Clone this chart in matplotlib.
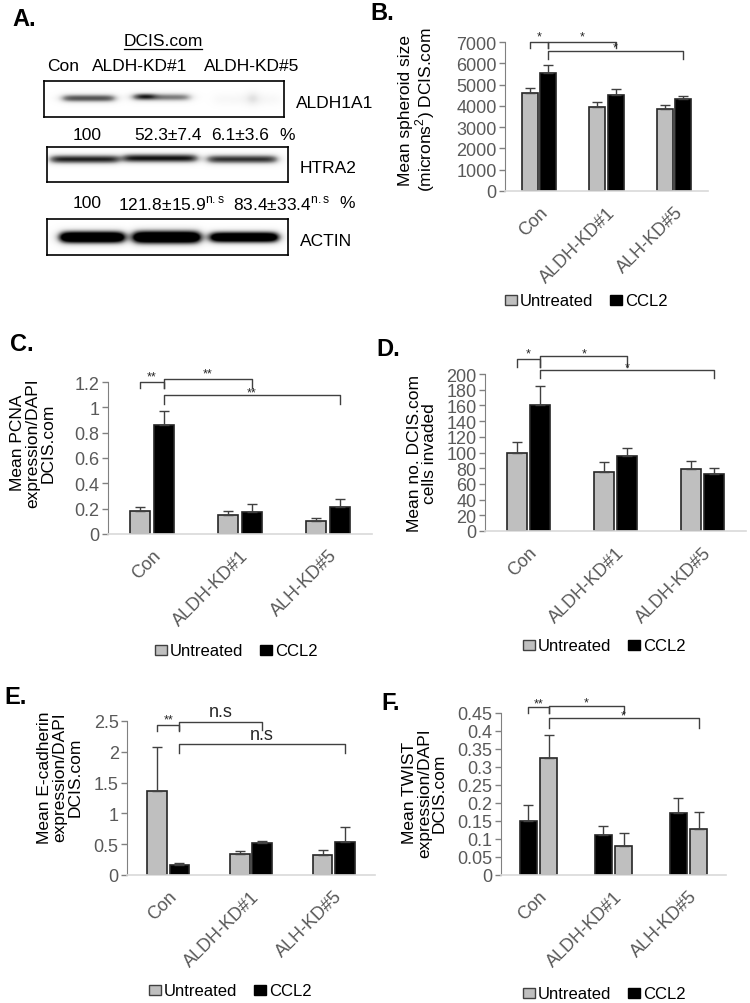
import matplotlib
matplotlib.use("Agg")
import matplotlib.pyplot as plt
import numpy as np
from matplotlib.patches import Patch

plt.rcParams['font.family'] = ['Liberation Sans', 'DejaVu Sans']
plt.rcParams['mathtext.fontset'] = 'custom'
plt.rcParams['mathtext.rm'] = 'Liberation Sans'

W, H = 750, 1004

# ---- data ----
groups_a = ['Con', 'ALDH-KD#1', 'ALH-KD#5']
groups_d = ['Con', 'ALDH-KD#1', 'ALDH-KD#5']

spheroid_untr = [4600, 3950, 3850]
spheroid_untr_err = [250, 250, 200]
spheroid_ccl2 = [5550, 4520, 4320]
spheroid_ccl2_err = [350, 250, 150]

pcna_untr = [0.18, 0.15, 0.105]
pcna_untr_err = [0.03, 0.035, 0.025]
pcna_ccl2 = [0.86, 0.175, 0.215]
pcna_ccl2_err = [0.11, 0.06, 0.065]

inv_untr = [100, 75, 79]
inv_untr_err = [14, 13, 10]
inv_ccl2 = [161, 96, 73]
inv_ccl2_err = [24, 10, 7]

ecad_untr = [1.36, 0.34, 0.32]
ecad_untr_err = [0.71, 0.05, 0.09]
ecad_ccl2 = [0.16, 0.52, 0.54]
ecad_ccl2_err = [0.035, 0.03, 0.24]

# panel F: first bar black, second bar grey (as in the figure)
twist_first = [0.15, 0.11, 0.172]
twist_first_err = [0.045, 0.025, 0.042]
twist_second = [0.325, 0.08, 0.128]
twist_second_err = [0.063, 0.037, 0.047]

# western blot quantification
blot_lanes = ['Con', 'ALDH-KD#1', 'ALDH-KD#5']
aldh_quant = ['100', '52.3±7.4', '6.1±3.6']
htra_quant = ['100', '121.8±15.9$^{\\mathrm{n.s}}$', '83.4±33.4$^{\\mathrm{n.s}}$']

GREY = '#bfbfbf'
TICK = '#595959'

fig = plt.figure(figsize=(7.5, 10.04), dpi=100)


def fx(x):
    return x / W


def fy(y):
    return 1 - y / H


def add_ax(l, t, r, b):
    return fig.add_axes([fx(l), fy(b), fx(r) - fx(l), fy(t) - fy(b)])


def bracket(ax, x1, x2, y, h, label, size=10, dy=0):
    ax.plot([x1, x1, x2, x2], [y - h, y, y, y - h], color='#404040', lw=1,
            clip_on=False)
    ax.text((x1 + x2) / 2, y + dy, label, ha='center', va='bottom',
            fontsize=size, color='#262626', clip_on=False)


def bar_panel(ax, names, v1, e1, c1, v2, e2, c2, ymax, step, ytl, fs=13):
    x = np.arange(len(names))
    off, w = 0.135, 0.235
    for xs, v, e, c in [(x - off, v1, e1, c1), (x + off, v2, e2, c2)]:
        ax.bar(xs, v, w, color=c, edgecolor='#262626', lw=1.2, zorder=2)
        ax.errorbar(xs, v, yerr=[np.zeros(len(v)), e], fmt='none',
                    ecolor='#404040', elinewidth=1, capsize=3.5, zorder=3)
    ax.set_xlim(-0.5, len(names) - 0.5)
    ax.set_ylim(0, ymax)
    ax.set_yticks(np.arange(0, ymax + step / 2, step))
    ax.set_yticklabels(ytl)
    ax.set_xticks(x)
    ax.set_xticklabels(names, rotation=45, ha='right', rotation_mode='anchor')
    ax.tick_params(axis='x', length=0, pad=9, labelsize=fs, colors=TICK)
    ax.tick_params(axis='y', length=4, width=1, color='#808080', pad=2,
                   labelsize=fs, colors=TICK)
    for s in ['top', 'right']:
        ax.spines[s].set_visible(False)
    ax.spines['left'].set_color('#808080')
    ax.spines['bottom'].set_color('#d9d9d9')
    ax.spines['bottom'].set_linewidth(1.2)


def legend(cx, cy):
    handles = [Patch(facecolor=GREY, edgecolor='#404040', label='Untreated'),
               Patch(facecolor='black', edgecolor='black', label='CCL2')]
    fig.legend(handles=handles, loc='center', bbox_to_anchor=(fx(cx), fy(cy)),
               ncol=2, frameon=False, fontsize=12, handlelength=0.75,
               handleheight=0.55, handletextpad=0.15, columnspacing=1.0)


def panel_letter(x, y, s):
    fig.text(fx(x), fy(y), s, fontsize=17, fontweight='bold', va='center',
             ha='left')


# ---- panel A: western blot ----
panel_letter(12, 20, 'A.')
fig.text(fx(163), fy(42), 'DCIS.com', ha='center', va='center', fontsize=12.5)
fig.add_artist(plt.Line2D([fx(124), fx(202)], [fy(50), fy(50)], color='k', lw=0.9))
for lx, lab in zip([63, 140, 252], blot_lanes):
    fig.text(fx(lx), fy(67), lab, ha='center', va='center', fontsize=12.5)


def blot(l, t, r, b, bands, name):
    ax = add_ax(l, t, r, b)
    wpx, hpx = r - l, b - t
    xx, yy = np.meshgrid(np.arange(wpx * 2) / 2, np.arange(hpx * 2) / 2)
    img = np.zeros_like(xx)
    for x0, x1, yc, sy, amp in bands:
        edge = 1 / (1 + np.exp(-(xx - x0) / 3)) * 1 / (1 + np.exp((xx - x1) / 3))
        img += amp * edge * np.exp(-((yy - yc) / sy) ** 2)
    ax.imshow(np.clip(img, 0, 1), cmap='Greys', vmin=0, vmax=1, aspect='auto',
              extent=[0, wpx, hpx, 0], interpolation='bilinear')
    ax.set_xticks([])
    ax.set_yticks([])
    for s in ax.spines.values():
        s.set_linewidth(1.2)
    fig.text(fx(r + 12), fy((t + b) / 2 + 3), name, ha='left', va='center',
             fontsize=12.5)


blot(44, 82, 284, 118, [(18, 71, 17, 4, 0.75), (88, 146, 16, 4, 0.6),
                        (92, 110, 15, 3, 0.4), (170, 236, 18, 6, 0.06),
                        (205, 212, 17, 7, 0.25)], 'ALDH1A1')
fig.text(fx(87), fy(136), aldh_quant[0], ha='center', va='center', fontsize=12.5)
fig.text(fx(168), fy(136), aldh_quant[1], ha='center', va='center', fontsize=12.5)
fig.text(fx(240), fy(136), aldh_quant[2], ha='center', va='center', fontsize=12.5)
fig.text(fx(287), fy(136), '%', ha='center', va='center', fontsize=12.5)

blot(47, 148, 288, 183, [(3, 72, 12, 4.5, 0.9), (76, 150, 11, 4.5, 0.95),
                         (160, 230, 12, 4.5, 0.85)], 'HTRA2')
fig.text(fx(87), fy(204), htra_quant[0], ha='center', va='center', fontsize=12.5)
fig.text(fx(172), fy(204), htra_quant[1], ha='center', va='center', fontsize=12.5)
fig.text(fx(282), fy(204), htra_quant[2], ha='center', va='center', fontsize=12.5)
fig.text(fx(347), fy(204), '%', ha='center', va='center', fontsize=12.5)

blot(47, 220, 288, 256, [(13, 77, 18, 6, 1.6), (86, 153, 18, 6.5, 1.6),
                         (163, 231, 18, 5.5, 1.5)], 'ACTIN')

# ---- panel B ----
panel_letter(370, 13, 'B.')
axB = add_ax(505, 43, 708, 192)
bar_panel(axB, groups_a, spheroid_untr, spheroid_untr_err, GREY,
          spheroid_ccl2, spheroid_ccl2_err, 'black', 7000, 1000,
          [str(v) for v in range(0, 7001, 1000)])
axB.set_ylabel('Mean spheroid size\n(microns$^{2}$) DCIS.com', fontsize=12.5,
               linespacing=1.0)
axB.yaxis.set_label_coords(-0.335, 0.55)
bracket(axB, -0.135, 0.135, 7000, 300, '*', 9)
bracket(axB, 0.135, 1.135, 7000, 300, '*', 9)
bracket(axB, 0.135, 2.135, 6600, 400, '*', 9, dy=-150)
legend(586, 302)

# ---- panel C ----
panel_letter(10, 345, 'C.')
axC = add_ax(108, 383, 372, 535)
bar_panel(axC, groups_a, pcna_untr, pcna_untr_err, GREY, pcna_ccl2,
          pcna_ccl2_err, 'black', 1.2, 0.2,
          ['0', '0.2', '0.4', '0.6', '0.8', '1', '1.2'])
axC.set_ylabel('Mean PCNA\nexpression/DAPI\nDCIS.com', fontsize=12.5,
               linespacing=1.0)
axC.yaxis.set_label_coords(-0.2, 0.605)
bracket(axC, -0.135, 0.135, 1.2, 0.05, '**', 9)
bracket(axC, 0.135, 1.135, 1.22, 0.07, '**', 9)
bracket(axC, 0.135, 2.135, 1.1, 0.07, '**', 9, dy=-0.03)
legend(236, 652)

# ---- panel D ----
panel_letter(376, 350, 'D.')
axD = add_ax(485, 375, 746, 532)
bar_panel(axD, groups_d, inv_untr, inv_untr_err, GREY, inv_ccl2, inv_ccl2_err,
          'black', 200, 20, [str(v) for v in range(0, 201, 20)])
axD.set_ylabel('Mean no. DCIS.com\ncells invaded', fontsize=12.5,
               linespacing=1.0)
axD.yaxis.set_label_coords(-0.184, 0.5)
bracket(axD, -0.135, 0.135, 219, 10, '*', 9)
bracket(axD, 0.135, 1.135, 223, 14, '*', 9, dy=-5)
bracket(axD, 0.135, 2.135, 205, 10, '*', 9, dy=-4)
legend(604, 647)

# ---- panel E ----
panel_letter(4, 697, 'E.')
axE = add_ax(127, 722, 375, 876)
bar_panel(axE, groups_a, ecad_untr, ecad_untr_err, GREY, ecad_ccl2,
          ecad_ccl2_err, 'black', 2.5, 0.5,
          ['0', '0.5', '1', '1.5', '2', '2.5'])
axE.set_ylabel('Mean E-cadherin\nexpression/DAPI\nDCIS.com', fontsize=12.5,
               linespacing=1.0)
axE.yaxis.set_label_coords(-0.18, 0.64)
bracket(axE, -0.135, 0.135, 2.43, 0.1, '**', 9)
bracket(axE, 0.135, 1.135, 2.48, 0.12, 'n.s', 13, dy=0.03)
bracket(axE, 0.135, 2.135, 2.12, 0.14, 'n.s', 13, dy=0.02)
legend(230, 992)

# ---- panel F ----
panel_letter(381, 703, 'F.')
axF = add_ax(501, 714, 726, 876)
bar_panel(axF, groups_a, twist_first, twist_first_err, 'black', twist_second,
          twist_second_err, GREY, 0.45, 0.05,
          ['0', '0.05', '0.1', '0.15', '0.2', '0.25', '0.3', '0.35', '0.4',
           '0.45'])
axF.set_ylabel('Mean TWIST\nexpression/DAPI\nDCIS.com', fontsize=12.5,
               linespacing=1.0)
axF.yaxis.set_label_coords(-0.24, 0.51)
bracket(axF, -0.135, 0.135, 0.468, 0.018, '**', 9, dy=-0.008)
bracket(axF, 0.135, 1.135, 0.47, 0.02, '*', 9, dy=-0.008)
bracket(axF, 0.135, 2.135, 0.435, 0.028, '*', 9, dy=-0.008)
legend(604, 995)

fig.savefig('out.png', dpi=100)
